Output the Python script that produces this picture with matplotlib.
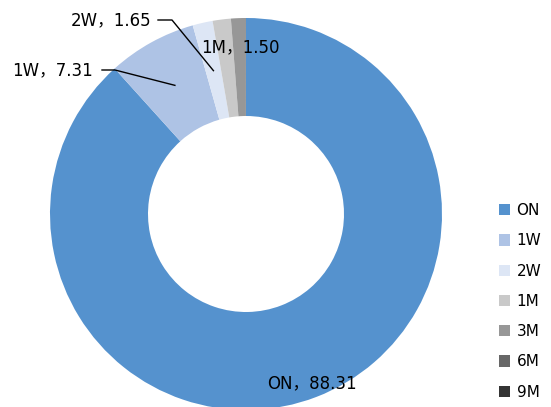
import numpy as np
import matplotlib
matplotlib.use("Agg")
import matplotlib.pyplot as plt
from matplotlib.patches import Patch

plt.rcParams['font.family'] = ['DejaVu Sans', 'Noto Sans CJK SC']

categories = ["ON", "1W", "2W", "1M", "3M", "6M", "9M"]
values = [88.31, 7.31, 1.65, 1.50, 1.19, 0.03, 0.01]
colors = ["#5592CE", "#AEC3E5", "#DDE6F5", "#C9C9C9", "#979797", "#676767", "#343434"]
label_cats = ["ON", "1W", "2W", "1M"]

W, H = 551, 407
cx, cy, R = 246, 214, 196

fig = plt.figure(figsize=(W / 100, H / 100), dpi=100)
ax = fig.add_axes([0, 0, 1, 1])

wedges, _ = ax.pie(values, colors=colors, startangle=90, counterclock=False,
                   radius=1.0, wedgeprops=dict(width=0.5, edgecolor='none'))
ax.set_aspect('auto')
ax.set_xlim(-cx / R, (W - cx) / R)
ax.set_ylim(-(H - cy) / R, cy / R)
ax.axis('off')

def px(x, y):
    return (x - cx) / R, (cy - y) / R

fs = 12
for w, cat, val in zip(wedges, categories, values):
    if cat not in label_cats:
        continue
    mid = np.deg2rad((w.theta1 + w.theta2) / 2)
    ex, ey = 0.75 * np.cos(mid), 0.75 * np.sin(mid)
    txt = f"{cat}，{val:.2f}"
    if cat == "ON":
        tx, ty = px(312, 383)
        ax.text(tx, ty, txt, ha='center', va='center', fontsize=fs)
    elif cat == "1W":
        tx, ty = px(93, 70)
        ax.text(tx, ty, txt, ha='right', va='center', fontsize=fs)
        x1, _ = px(102, 70)
        x2, _ = px(115, 70)
        ax.plot([x1, x2, ex], [ty, ty, ey], color='black', lw=1)
    elif cat == "2W":
        tx, ty = px(151, 20)
        ax.text(tx, ty, txt, ha='right', va='center', fontsize=fs)
        x1, _ = px(158, 20)
        x2, _ = px(172, 20)
        ax.plot([x1, x2, ex], [ty, ty, ey], color='black', lw=1)
    elif cat == "1M":
        tx, ty = px(240, 47)
        ax.text(tx, ty, txt, ha='center', va='center', fontsize=fs)

handles = [Patch(facecolor=c, edgecolor='none', label=l) for c, l in zip(colors, categories)]
fig.legend(handles=handles, loc='upper left', bbox_to_anchor=(499 / W, 1 - 203 / H),
           frameon=False, fontsize=11, handlelength=0.75, handleheight=0.75,
           handletextpad=0.4, labelspacing=1.0, borderaxespad=0, borderpad=0)

fig.savefig("out.png", dpi=100)
